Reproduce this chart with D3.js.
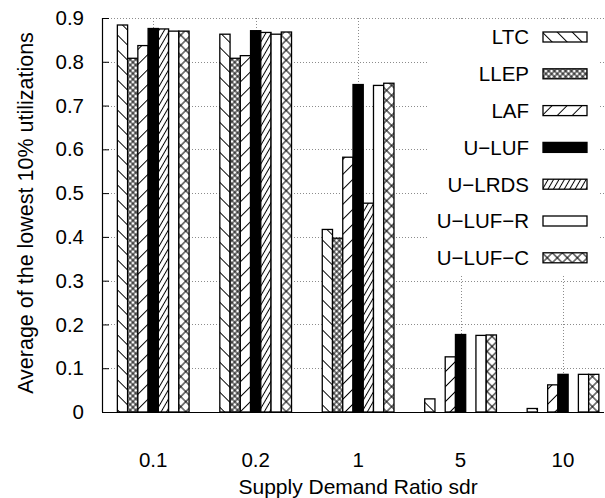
<!DOCTYPE html>
<html>
<head>
<meta charset="utf-8">
<script src="https://cdn.jsdelivr.net/npm/d3@7"></script>
<style>
  html, body { margin: 0; padding: 0; background: #fff; }
  svg { display: block; font-family: "Liberation Sans", Arial, Helvetica, sans-serif; }
</style>
</head>
<body>
<svg id="chart" width="605" height="498"></svg>
<script>
// Supply demand ratios on the x axis
const categories = ["0.1", "0.2", "1", "5", "10"];
const seriesNames = ["LTC", "LLEP", "LAF", "U\u2212LUF", "U\u2212LRDS", "U\u2212LUF\u2212R", "U\u2212LUF\u2212C"];

// Average of the lowest 10% utilizations, one array per scheme
const ltc    = [0.884, 0.863, 0.417, 0.030, 0.008];
const llep   = [0.808, 0.808, 0.397, 0.000, 0.000];
const laf    = [0.837, 0.814, 0.582, 0.126, 0.062];
const uluf   = [0.876, 0.871, 0.748, 0.177, 0.086];
const ulrds  = [0.875, 0.867, 0.477, 0.000, 0.000];
const ulufR  = [0.870, 0.863, 0.746, 0.175, 0.086];
const ulufC  = [0.870, 0.868, 0.751, 0.176, 0.086];

const yTicks = [0, 0.1, 0.2, 0.3, 0.4, 0.5, 0.6, 0.7, 0.8, 0.9];

(function draw() {
  const seriesValues = [ltc, llep, laf, uluf, ulrds, ulufR, ulufC];
  const fills = ["url(#p-ltc)", "url(#p-llep)", "url(#p-laf)", "#000", "url(#p-lrds)", "#fff", "url(#p-lufc)"];

  const svg = d3.select("#chart");
  const mLeft = 102, mRight = 604, mTop = 18, mBottom = 412;

  // category index -> x position (tick at integer index)
  const x = d3.scaleLinear().domain([-0.5, 4.4]).range([mLeft, mRight]);
  const step = x(1) - x(0);
  // each cluster: 7 bars plus a gap of 3 bar widths
  const inner = d3.scaleBand().domain(d3.range(seriesNames.length))
    .range([-step / 2, step / 2]).paddingInner(0).paddingOuter(1.5);
  const y = d3.scaleLinear().domain([0, 0.9]).range([mBottom, mTop]);

  // fill patterns
  const defs = svg.append("defs");
  function stripes(id, spacing, angle, cross) {
    const p = defs.append("pattern").attr("id", id)
      .attr("patternUnits", "userSpaceOnUse")
      .attr("width", spacing).attr("height", spacing)
      .attr("patternTransform", `rotate(${angle})`);
    p.append("rect").attr("width", spacing).attr("height", spacing).attr("fill", "#fff");
    p.append("line").attr("x1", spacing / 2).attr("x2", spacing / 2)
      .attr("y1", 0).attr("y2", spacing).attr("stroke", "#000").attr("stroke-width", 1);
    if (cross) {
      p.append("line").attr("y1", spacing / 2).attr("y2", spacing / 2)
        .attr("x1", 0).attr("x2", spacing).attr("stroke", "#000").attr("stroke-width", 1);
    }
  }
  stripes("p-ltc", 10.6, -45, false);
  stripes("p-laf", 10.6, 45, false);
  stripes("p-lrds", 4.7, 30, false);
  stripes("p-llep", 4.0, 45, true);
  stripes("p-lufc", 7.1, 45, true);

  // grid
  const grid = svg.append("g").attr("stroke", "#8c8c8c").attr("stroke-width", 1)
    .attr("stroke-dasharray", "1,2").attr("fill", "none");
  grid.selectAll("line.h").data(yTicks.filter(d => d > 0)).join("line").attr("class", "h")
    .attr("x1", mLeft).attr("x2", mRight)
    .attr("y1", d => Math.round(y(d)) + 0.5).attr("y2", d => Math.round(y(d)) + 0.5);
  grid.selectAll("line.v").data(d3.range(categories.length)).join("line").attr("class", "v")
    .attr("x1", d => Math.round(x(d)) + 0.5).attr("x2", d => Math.round(x(d)) + 0.5)
    .attr("y1", mTop).attr("y2", mBottom);

  // legend background hides the grid behind the key
  svg.append("rect").attr("x", 429).attr("y", 20).attr("width", 170).attr("height", 256).attr("fill", "#fff");

  // bars
  const bars = [];
  seriesValues.forEach((vals, s) => vals.forEach((v, c) => { if (v > 0) bars.push({ s, c, v }); }));
  svg.append("g").selectAll("rect").data(bars).join("rect")
    .attr("x", d => x(d.c) + inner(d.s))
    .attr("width", inner.bandwidth())
    .attr("y", d => y(d.v))
    .attr("height", d => y(0) - y(d.v))
    .attr("fill", d => fills[d.s])
    .attr("stroke", "#000").attr("stroke-width", 1.3);

  // axes
  const yAxis = svg.append("g").attr("transform", `translate(${mLeft},0)`)
    .call(d3.axisLeft(y).tickValues(yTicks).tickSize(-7).tickPadding(18)
      .tickFormat(d => d === 0 ? "0" : d3.format(".1f")(d)));
  yAxis.select(".domain").remove();
  yAxis.selectAll("text").attr("font-size", 20.5).attr("fill", "#000")
    .attr("font-family", "Liberation Sans, Arial, sans-serif");
  yAxis.selectAll(".tick line").attr("stroke", "#000");

  svg.append("line").attr("x1", mLeft + 0.5).attr("x2", mLeft + 0.5).attr("y1", mTop).attr("y2", mBottom)
    .attr("stroke", "#000").attr("stroke-width", 1.2);
  svg.append("line").attr("x1", mLeft).attr("x2", mRight).attr("y1", mBottom + 0.5).attr("y2", mBottom + 0.5)
    .attr("stroke", "#000").attr("stroke-width", 1.2);

  svg.append("g").selectAll("text").data(categories).join("text")
    .attr("x", (d, i) => x(i)).attr("y", 467)
    .attr("text-anchor", "middle").attr("font-size", 20.5).text(d => d);

  // axis titles
  svg.append("text").attr("x", x(2)).attr("y", 494).attr("text-anchor", "middle")
    .attr("font-size", 21).text("Supply Demand Ratio sdr");
  svg.append("text").attr("transform", "translate(33,213) rotate(-90)")
    .attr("text-anchor", "middle").attr("font-size", 21.5)
    .text("Average of the lowest 10% utilizations");

  // key
  const key = svg.append("g").selectAll("g").data(seriesNames).join("g")
    .attr("transform", (d, i) => `translate(0,${37 + i * 36.8})`);
  key.append("text").attr("x", 529).attr("y", 0).attr("dy", "0.36em")
    .attr("text-anchor", "end").attr("font-size", 20.5).text(d => d);
  key.append("rect").attr("x", 543).attr("y", -5).attr("width", 44).attr("height", 10)
    .attr("fill", (d, i) => fills[i]).attr("stroke", "#000").attr("stroke-width", 1.3);
})();
</script>
</body>
</html>
